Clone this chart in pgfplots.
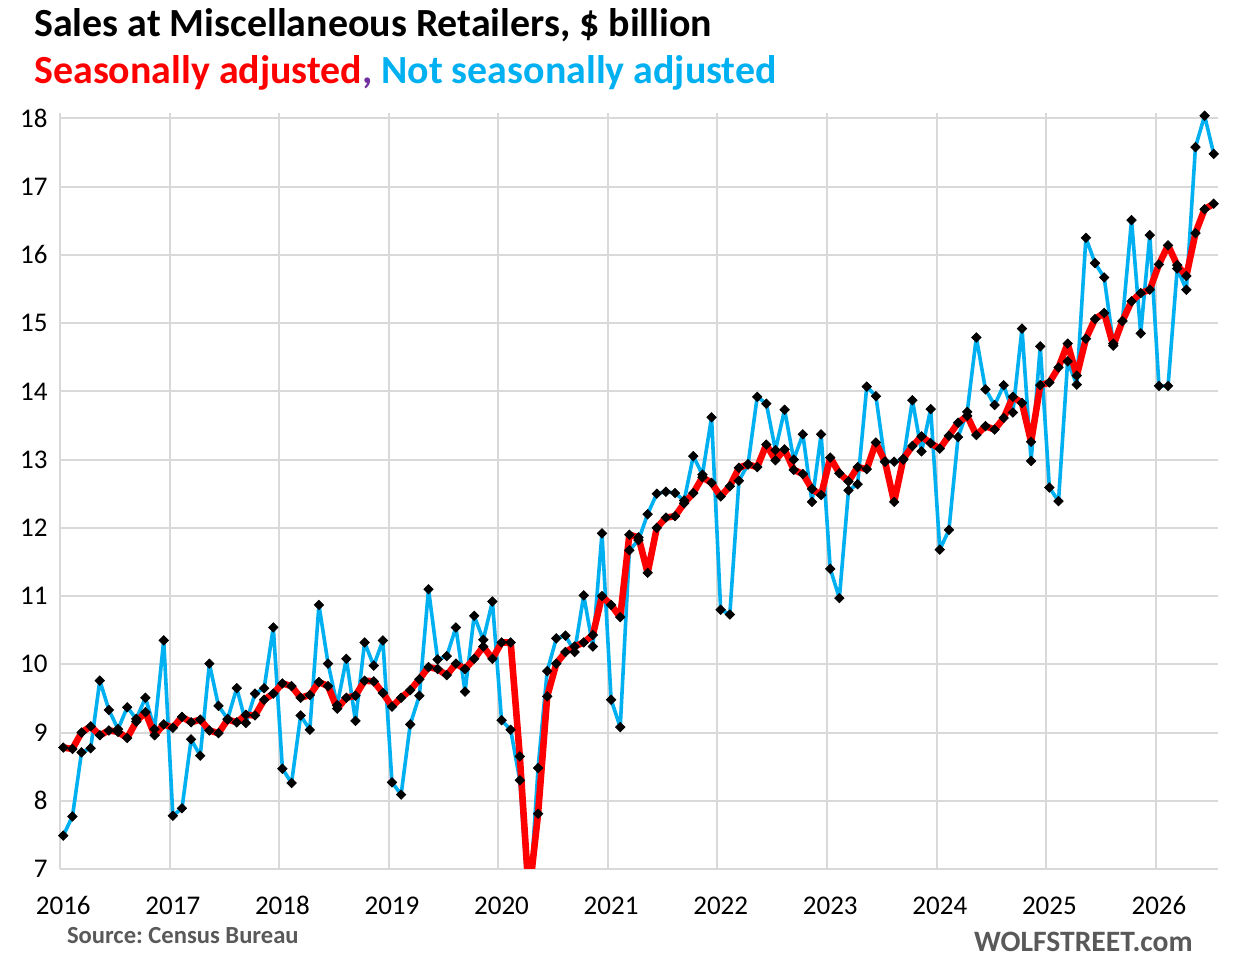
\documentclass[border=0pt]{standalone}
\usepackage{pgfplots}
\pgfplotsset{compat=1.18}
\usepackage{pgfplotstable}
\usepackage{fontspec}
\setmainfont{Carlito}
\definecolor{xlblue}{HTML}{00B0F0}
\definecolor{xlred}{HTML}{FF0000}
\definecolor{xlpurple}{HTML}{7030A0}
\definecolor{xlgray}{HTML}{595959}
\definecolor{xlgrid}{HTML}{D9D9D9}

\pgfplotstableread{
i nsa sa
0 7.49 8.78
1 7.77 8.76
2 8.71 9.00
3 8.77 9.09
4 9.76 8.96
5 9.33 9.03
6 9.05 9.01
7 9.37 8.92
8 9.20 9.16
9 9.51 9.30
10 9.05 8.96
11 10.35 9.12
12 7.78 9.07
13 7.89 9.23
14 8.90 9.15
15 8.66 9.19
16 10.01 9.03
17 9.39 8.99
18 9.20 9.19
19 9.65 9.15
20 9.14 9.26
21 9.57 9.25
22 9.65 9.48
23 10.54 9.57
24 8.47 9.72
25 8.26 9.68
26 9.25 9.51
27 9.04 9.55
28 10.87 9.74
29 10.01 9.68
30 9.40 9.35
31 10.08 9.51
32 9.17 9.54
33 10.32 9.76
34 9.98 9.75
35 10.35 9.58
36 8.27 9.38
37 8.09 9.51
38 9.12 9.62
39 9.54 9.78
40 11.10 9.96
41 10.07 9.93
42 10.12 9.84
43 10.54 10.01
44 9.60 9.93
45 10.71 10.08
46 10.36 10.26
47 10.92 10.08
48 9.18 10.32
49 9.04 10.32
50 8.30 8.65
51 6.40 6.60
52 8.48 7.81
53 9.90 9.53
54 10.38 10.01
55 10.42 10.18
56 10.18 10.26
57 11.01 10.32
58 10.26 10.43
59 11.92 11.00
60 9.48 10.87
61 9.08 10.69
62 11.67 11.90
63 11.82 11.86
64 12.20 11.34
65 12.50 12.00
66 12.53 12.15
67 12.51 12.17
68 12.40 12.36
69 13.05 12.51
70 12.78 12.74
71 13.62 12.66
72 10.80 12.46
73 10.73 12.61
74 12.69 12.88
75 12.93 12.93
76 13.92 12.89
77 13.82 13.22
78 13.14 12.99
79 13.73 13.15
80 13.00 12.85
81 13.37 12.79
82 12.38 12.57
83 13.37 12.48
84 11.40 13.03
85 10.97 12.80
86 12.55 12.68
87 12.64 12.89
88 14.07 12.86
89 13.93 13.25
90 12.97 12.97
91 12.97 12.38
92 13.00 13.01
93 13.87 13.20
94 13.12 13.34
95 13.74 13.24
96 11.68 13.16
97 11.97 13.35
98 13.33 13.54
99 13.70 13.64
100 14.79 13.36
101 14.03 13.49
102 13.80 13.44
103 14.09 13.61
104 13.69 13.92
105 14.92 13.83
106 12.98 13.26
107 14.66 14.09
108 12.59 14.13
109 12.39 14.35
110 14.44 14.70
111 14.10 14.23
112 16.25 14.77
113 15.88 15.06
114 15.67 15.15
115 14.70 14.67
116 15.03 15.03
117 16.51 15.32
118 14.85 15.44
119 16.29 15.49
120 14.08 15.86
121 14.08 16.14
122 15.80 15.85
123 15.49 15.69
124 17.58 16.32
125 18.04 16.67
126 17.48 16.75
}\datatable

\begin{document}
\begin{tikzpicture}[x=1pt,y=1pt]
\useasboundingbox (0,0) rectangle (618,483.5);
\pgfplotsset{myaxis/.style={
  scale only axis, width=579pt, height=378pt,
  at={(30pt,49pt)}, anchor=south west,
  xmin=-0.36, xmax=126.47, ymin=7, ymax=18.08}}
\begin{axis}[myaxis,
  axis line style={draw=none},
  tick style={draw=none},
  /pgf/number format/assume math mode=true,
  ytick={7,8,...,18},
  ymajorgrids=true,
  grid style={draw=xlgrid, line width=1pt},
  xtick={0,12,...,120},
  xticklabels={2016,2017,2018,2019,2020,2021,2022,2023,2024,2025,2026},
  minor xtick={-0.36,11.64,23.64,35.64,47.64,59.64,71.64,83.64,95.64,107.64,119.64},
  xminorgrids=true,
  minor grid style={draw=xlgrid, line width=1pt},
  major tick length=0pt, minor tick length=0pt,
  xticklabel style={anchor=base, inner sep=0pt, yshift=-23pt, font=\fontsize{13.5}{16}\selectfont},
  yticklabel style={anchor=east, inner sep=0pt, xshift=-6pt, font=\fontsize{13.5}{16}\selectfont},
]
\addplot[xlblue, line width=1.8pt, line join=round, no markers] table[x=i,y=nsa]{\datatable};
\addplot[xlred, line width=3.3pt, line join=round, no markers] table[x=i,y=sa]{\datatable};
\end{axis}
\begin{axis}[myaxis, hide axis, clip=false]
\addplot[only marks, mark=square*, mark size=1.65pt, mark options={rotate=45, fill=black, draw=black}, restrict y to domain=7:19] table[x=i,y=nsa]{\datatable};
\addplot[only marks, mark=square*, mark size=1.65pt, mark options={rotate=45, fill=black, draw=black}, restrict y to domain=7:19] table[x=i,y=sa]{\datatable};
\end{axis}
\node[anchor=base west, inner sep=0pt, font=\fontsize{19.95}{24}\selectfont\bfseries] at (17,465.15) {Sales at Miscellaneous Retailers, \$ billion};
\node[anchor=base west, inner sep=0pt, font=\fontsize{19.95}{24}\selectfont\bfseries] at (17,441.5) {\textcolor{xlred}{Seasonally adjusted}\textcolor{xlpurple}{,} \textcolor{xlblue}{Not seasonally adjusted}};
\node[anchor=base west, inner sep=0pt, text=xlgray, font=\fontsize{12.3}{15}\selectfont\bfseries] at (33.3,11.5) {Source:\ Census Bureau};
\node[anchor=base east, inner sep=0pt, text=xlgray, font=\fontsize{14.8}{18}\selectfont\bfseries] at (596.5,7.65) {WOLFSTREET.com};
\end{tikzpicture}
\end{document}
